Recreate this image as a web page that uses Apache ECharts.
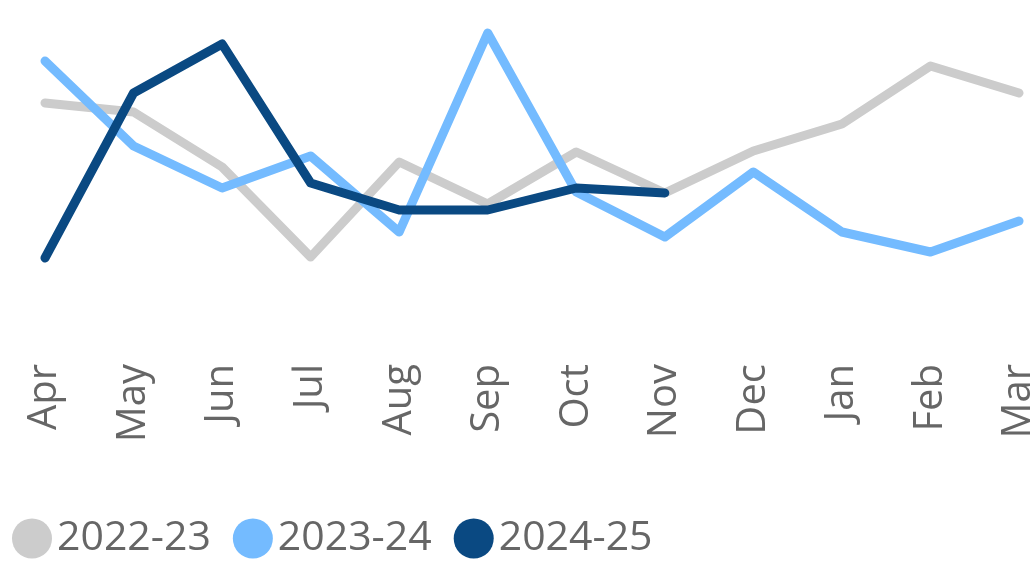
<!DOCTYPE html>
<html>
<head>
<meta charset="utf-8">
<script src="https://cdn.jsdelivr.net/npm/echarts@6/dist/echarts.min.js"></script>
<style>
  html, body { margin: 0; padding: 0; background: #fff; }
  #main { width: 1030px; height: 563px; }
</style>
</head>
<body>
<div id="main"></div>
<script>
var months = ["Apr", "May", "Jun", "Jul", "Aug", "Sep", "Oct", "Nov", "Dec", "Jan", "Feb", "Mar"];
var fy2223 = [197, 188, 133, 43, 138, 96, 148, 107, 149, 176, 234, 207];
var fy2324 = [239, 154, 112, 144, 68, 267, 108, 63, 128, 68, 48, 79];
var fy2425 = [42, 207, 256, 117, 90, 90, 112, 107];

var chartDom = document.getElementById("main");
var myChart = echarts.init(chartDom, null, { renderer: "canvas" });
var option;

function lineSeries(name, data, color) {
  return {
    name: name,
    type: "line",
    data: data,
    symbol: "none",
    color: color,
    lineStyle: { width: 9, color: color, cap: "round", join: "round" }
  };
}

option = {
  animation: false,
  textStyle: { fontFamily: "Open Sans" },
  grid: {
    left: 45, right: 11, top: 0, height: 300,
    containLabel: false,
    outerBoundsMode: "none"
  },
  xAxis: {
    type: "category",
    data: months,
    boundaryGap: false,
    axisLine: { show: false },
    axisTick: { show: false },
    splitLine: { show: false },
    axisLabel: {
      rotate: 90,
      interval: 0,
      margin: 64,
      color: "#666666",
      fontSize: 40,
      fontFamily: "Open Sans"
    }
  },
  yAxis: {
    type: "value",
    min: 0,
    max: 300,
    show: false
  },
  legend: {
    left: 12,
    top: 518,
    padding: 0,
    icon: "circle",
    itemWidth: 40,
    itemHeight: 40,
    itemGap: 22,
    textStyle: { fontSize: 41, color: "#666666", fontFamily: "Open Sans" },
    data: ["2022-23", "2023-24", "2024-25"]
  },
  series: [
    lineSeries("2022-23", fy2223, "#cccccc"),
    lineSeries("2023-24", fy2324, "#74bbff"),
    lineSeries("2024-25", fy2425, "#0a4982")
  ]
};

option && myChart.setOption(option);
</script>
</body>
</html>
